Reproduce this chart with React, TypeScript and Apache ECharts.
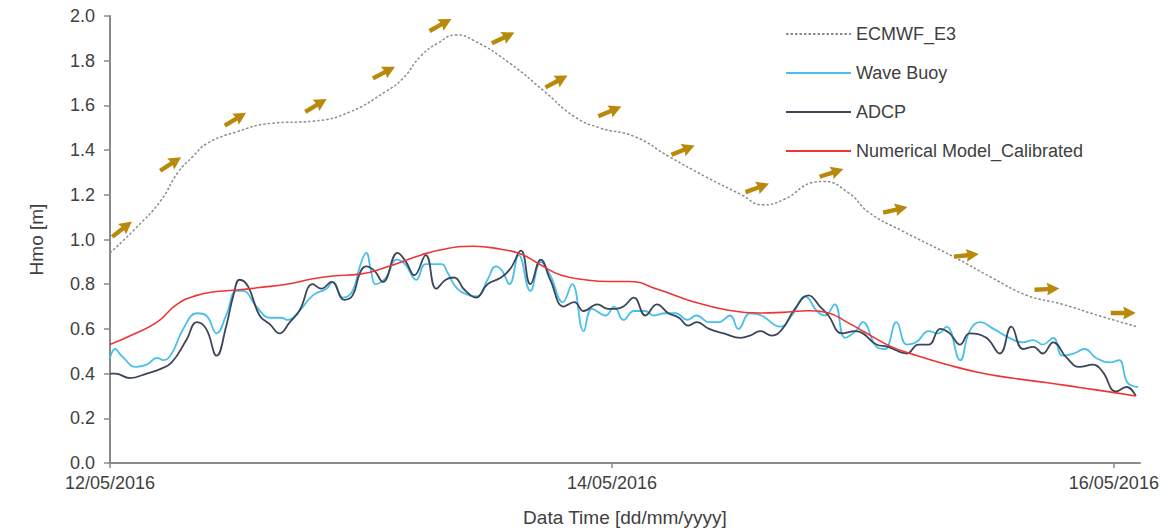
import React, { useEffect, useRef } from "react";
import * as echarts from "echarts";

// hours since 12/05/2016 00:00
const xTickHours = [0, 48, 96];
const xTickLabels = ["12/05/2016", "14/05/2016", "16/05/2016"];
const seriesNames = ["ECMWF_E3", "Wave Buoy", "ADCP", "Numerical Model_Calibrated"];

const ecmwf: [number, number][] = [
  [0, 0.94], [2.45, 1.05], [4.8, 1.17], [6.5, 1.3], [7.9, 1.37], [9.3, 1.43], [12.0, 1.48],
  [15.4, 1.52], [19.5, 1.53], [22.9, 1.57], [26.3, 1.66], [28.0, 1.72], [29.7, 1.82],
  [31.4, 1.88], [33.1, 1.915], [34.8, 1.89], [38.2, 1.79], [41.6, 1.66], [44.4, 1.55],
  [46.8, 1.5], [50.2, 1.46], [53.5, 1.37], [57.0, 1.28], [60.4, 1.2], [62.4, 1.155],
  [64.5, 1.18], [67.2, 1.255], [68.2, 1.26], [70.6, 1.21], [72.6, 1.12], [75.7, 1.04],
  [80.8, 0.92], [84.3, 0.83], [87.7, 0.75], [91.1, 0.71], [94.5, 0.66], [98.2, 0.61],
];

const waveBuoy: [number, number][] = [
  [0, 0.47], [0.5, 0.51], [1.1, 0.48], [2.5, 0.43], [3.5, 0.44], [4.5, 0.47], [5.1, 0.46],
  [5.9, 0.49], [7.0, 0.6], [8.3, 0.67], [9.2, 0.66], [10.2, 0.58], [11.1, 0.66], [12.1, 0.77],
  [12.7, 0.77], [14.0, 0.7], [15.3, 0.65], [16.4, 0.65], [17.0, 0.64], [18.1, 0.68],
  [19.4, 0.75], [20.7, 0.78], [21.3, 0.81], [22.3, 0.74], [23.2, 0.77], [23.9, 0.88],
  [24.5, 0.94], [25.0, 0.85], [25.4, 0.8], [26.4, 0.83], [27.4, 0.91], [28.2, 0.89],
  [29.3, 0.82], [30.2, 0.89], [31.7, 0.89], [32.3, 0.85], [33.2, 0.78], [34.4, 0.75],
  [35.1, 0.745], [36.1, 0.82], [36.9, 0.88], [37.5, 0.86], [38.2, 0.8], [39.1, 0.93],
  [40.2, 0.77], [41.2, 0.9], [42.1, 0.84], [43.3, 0.72], [44.2, 0.8], [45.3, 0.59],
  [46.1, 0.69], [47.4, 0.66], [48.2, 0.7], [49.1, 0.64], [50.1, 0.68], [51.2, 0.68],
  [52.0, 0.66], [53.1, 0.67], [54.1, 0.67], [55.2, 0.64], [56.1, 0.66], [57.3, 0.63],
  [58.2, 0.63], [59.3, 0.66], [60.1, 0.6], [61.2, 0.67], [62.3, 0.66], [64.1, 0.61],
  [65.2, 0.66], [66.5, 0.745], [67.6, 0.68], [68.4, 0.66], [69.3, 0.71], [70.3, 0.56],
  [71.3, 0.59], [72.0, 0.63], [73.3, 0.52], [74.1, 0.51], [75.2, 0.63], [76.2, 0.53],
  [77.1, 0.54], [78.3, 0.59], [79.2, 0.58], [80.0, 0.61], [81.3, 0.46], [82.2, 0.59],
  [83.2, 0.63], [84.5, 0.6], [86.0, 0.56], [87.3, 0.54], [88.3, 0.55], [89.2, 0.53],
  [90.2, 0.56], [91.1, 0.48], [92.2, 0.49], [93.2, 0.51], [94.3, 0.47], [95.6, 0.45],
  [96.5, 0.46], [97.3, 0.36], [98.3, 0.34],
];

const adcp: [number, number][] = [
  [0, 0.4], [0.5, 0.4], [1.9, 0.38], [3.5, 0.4], [4.8, 0.42], [5.9, 0.45], [7.3, 0.55],
  [8.3, 0.63], [9.2, 0.6], [10.2, 0.48], [11.1, 0.61], [11.8, 0.75], [12.4, 0.82], [13.2, 0.79],
  [14.3, 0.66], [15.3, 0.62], [16.2, 0.58], [17.2, 0.63], [18.1, 0.68], [19.4, 0.8],
  [20.2, 0.78], [21.2, 0.81], [22.4, 0.73], [23.2, 0.75], [23.9, 0.85], [24.5, 0.88],
  [25.3, 0.86], [26.1, 0.81], [27.5, 0.94], [28.3, 0.9], [29.1, 0.84], [30.2, 0.93],
  [31.2, 0.78], [32.1, 0.82], [32.9, 0.83], [33.9, 0.775], [35.0, 0.74], [36.1, 0.8],
  [37.4, 0.83], [38.3, 0.87], [39.3, 0.95], [40.2, 0.8], [41.2, 0.91], [42.1, 0.82],
  [43.4, 0.7], [44.4, 0.72], [45.3, 0.68], [46.6, 0.71], [47.6, 0.69], [48.4, 0.69],
  [49.1, 0.7], [50.1, 0.74], [51.2, 0.66], [52.3, 0.71], [53.4, 0.67], [54.4, 0.65],
  [55.3, 0.615], [56.1, 0.63], [57.3, 0.6], [58.7, 0.58], [60.3, 0.56], [61.2, 0.57],
  [62.2, 0.59], [63.3, 0.57], [64.3, 0.6], [65.5, 0.69], [66.8, 0.75], [67.9, 0.7],
  [68.7, 0.66], [70.0, 0.58], [71.3, 0.59], [72.0, 0.58], [73.3, 0.53], [74.4, 0.52],
  [76.2, 0.49], [77.3, 0.53], [78.3, 0.53], [79.4, 0.6], [80.3, 0.58], [81.3, 0.53],
  [82.2, 0.58], [83.8, 0.56], [85.1, 0.49], [86.2, 0.61], [87.3, 0.51], [88.3, 0.52],
  [89.2, 0.49], [90.2, 0.54], [91.5, 0.47], [92.7, 0.43], [94.0, 0.44], [94.9, 0.41],
  [96.2, 0.32], [97.2, 0.34], [98.1, 0.3],
];

const numericalModel: [number, number][] = [
  [0, 0.53], [2.2, 0.575], [4.5, 0.63], [6.4, 0.71], [8.3, 0.75], [10.2, 0.767],
  [12.4, 0.775], [14.3, 0.785], [16.9, 0.8], [19.4, 0.824], [21.3, 0.837], [23.9, 0.845],
  [26.6, 0.879], [29.7, 0.93], [32.3, 0.96], [34.8, 0.97], [37.4, 0.956], [39.3, 0.935],
  [41.2, 0.886], [43.1, 0.841], [45.6, 0.819], [47.7, 0.812], [49.6, 0.812], [52.5, 0.775],
  [55.7, 0.723], [58.9, 0.686], [62.0, 0.671], [64.3, 0.674], [66.8, 0.681], [68.7, 0.671],
  [70.6, 0.627], [72.2, 0.585], [74.6, 0.523], [76.8, 0.486], [80.0, 0.441], [83.2, 0.404],
  [86.4, 0.379], [89.5, 0.36], [92.7, 0.338], [95.9, 0.316], [98.1, 0.3],
];

// direction arrows: hour, height, angle in degrees above horizontal
const arrowHours = [1.15, 5.8, 12.0, 19.7, 26.2, 31.6, 37.6, 42.7, 47.8, 54.8, 61.9, 69.0, 75.1, 81.9, 89.6, 96.9];
const arrowHeights = [1.046, 1.338, 1.538, 1.6, 1.747, 1.96, 1.902, 1.707, 1.573, 1.4, 1.231, 1.298, 1.133, 0.929, 0.778, 0.671];
const arrowAngles = [38, 33, 31, 31, 28, 29, 25, 28, 23, 22, 20, 18, 13, 6, 3, 0];

const ARROW_PATH = "path://M0,4 L13,4 L12,0 L24,6 L12,12 L13,8 L0,8 Z";
const FONT = "'Liberation Sans', Arial, sans-serif";

export default function App() {
  const ref = useRef<HTMLDivElement>(null);
  useEffect(() => {
    if (!ref.current) return;
    const chart = echarts.init(ref.current, undefined, { renderer: "svg" });
    const arrowData = arrowHours.map((h, i) => ({
      value: [h, arrowHeights[i]],
      symbolRotate: arrowAngles[i],
    }));
    chart.setOption({
      animation: false,
      backgroundColor: "#ffffff",
      textStyle: { fontFamily: FONT },
      grid: { left: 110, right: 25, top: 16, bottom: 66, containLabel: false },
      legend: {
        orient: "vertical",
        left: 780,
        top: 20,
        itemWidth: 65,
        itemHeight: 14,
        itemGap: 21,
        data: seriesNames,
        itemStyle: { opacity: 0, borderWidth: 0 },
        textStyle: { fontFamily: FONT, fontSize: 18, color: "#404040" },
      },
      xAxis: {
        type: "value",
        min: 0,
        max: 98.5,
        interval: 48,
        name: "Data Time [dd/mm/yyyy]",
        nameLocation: "middle",
        nameGap: 45,
        nameTextStyle: { fontFamily: FONT, fontSize: 19, color: "#404040" },
        axisLine: { show: true, onZero: false, lineStyle: { color: "#8a8a8a", width: 2 } },
        axisTick: { show: true, length: 5, customValues: xTickHours, lineStyle: { color: "#8a8a8a", width: 1.5 } },
        axisLabel: {
          customValues: xTickHours,
          fontSize: 18,
          color: "#404040",
          margin: 11,
          formatter: (v: number) => {
            const i = xTickHours.indexOf(v);
            return i >= 0 ? xTickLabels[i] : "";
          },
        },
        splitLine: { show: false },
      },
      yAxis: {
        type: "value",
        min: 0,
        max: 2,
        interval: 0.2,
        name: "Hmo [m]",
        nameLocation: "middle",
        nameGap: 64,
        nameTextStyle: { fontFamily: FONT, fontSize: 19, color: "#404040" },
        axisLine: { show: true, lineStyle: { color: "#8a8a8a", width: 2 } },
        axisTick: { show: true, length: 6, lineStyle: { color: "#8a8a8a", width: 1.5 } },
        axisLabel: {
          fontSize: 18,
          color: "#404040",
          margin: 15,
          formatter: (v: number) => v.toFixed(1),
        },
        splitLine: { show: false },
      },
      series: [
        {
          name: seriesNames[0],
          type: "line",
          data: ecmwf,
          smooth: 0.5,
          symbol: "none",
          lineStyle: { color: "#8c8c8c", width: 1.5, type: [2.5, 2] },
          itemStyle: { color: "#8c8c8c" },
        },
        {
          name: seriesNames[1],
          type: "line",
          data: waveBuoy,
          smooth: 0.45,
          symbol: "none",
          lineStyle: { color: "#49c0ea", width: 1.8 },
          itemStyle: { color: "#49c0ea" },
        },
        {
          name: seriesNames[2],
          type: "line",
          data: adcp,
          smooth: 0.45,
          symbol: "none",
          lineStyle: { color: "#3b4659", width: 1.8 },
          itemStyle: { color: "#3b4659" },
        },
        {
          name: seriesNames[3],
          type: "line",
          data: numericalModel,
          smooth: 0.5,
          symbol: "none",
          lineStyle: { color: "#ee3535", width: 1.6 },
          itemStyle: { color: "#ee3535" },
        },
        {
          name: "Direction",
          type: "scatter",
          data: arrowData,
          symbol: ARROW_PATH,
          symbolSize: [25, 13],
          itemStyle: { color: "#b8890b", opacity: 1 },
          z: 5,
        },
      ],
    });
    return () => chart.dispose();
  }, []);
  return (
    <div
      ref={ref}
      style={{ position: "fixed", left: 0, top: 0, width: 1165, height: 532, background: "#fff" }}
    />
  );
}
